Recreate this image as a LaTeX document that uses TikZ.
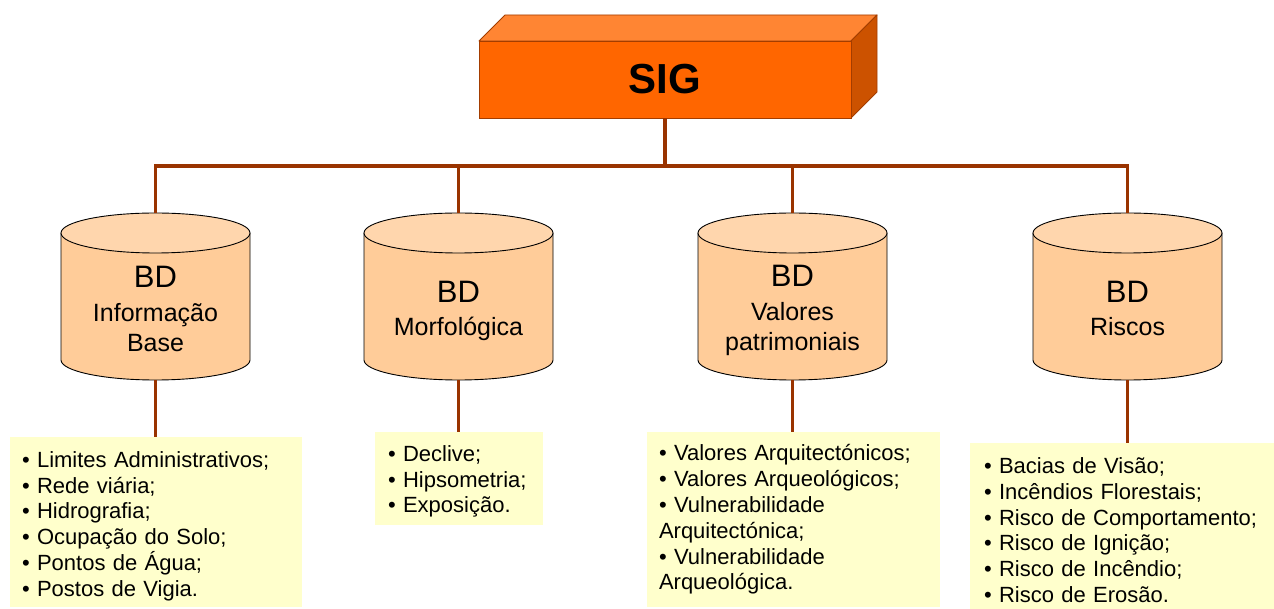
\documentclass[tikz,border=0pt]{standalone}
\usepackage{fontspec}
\setmainfont{Liberation Sans}
\definecolor{wirec}{HTML}{993300}
\definecolor{sigfront}{HTML}{FF6600}
\definecolor{sigtop}{HTML}{FF8533}
\definecolor{sigside}{HTML}{CC5200}
\definecolor{sigedge}{HTML}{A33D00}
\definecolor{cylbody}{HTML}{FFCC99}
\definecolor{cyltop}{HTML}{FFD6AD}
\definecolor{listfill}{HTML}{FFFFCC}
\begin{document}
\begin{tikzpicture}[x=1pt,y=1pt,
  wire/.style={draw=wirec, line width=3.2pt},
  sigbox/.style={draw=sigedge, fill=sigfront, line width=0.9pt, minimum width=372, minimum height=77, inner sep=0pt, font=\fontsize{42}{48}\selectfont\bfseries},
  sigface/.style={draw=sigedge, line width=0.9pt, line join=round},
  cyledge/.style={draw=black, line width=0.9pt},
  cylfoot/.style={minimum width=189, minimum height=167, inner sep=0pt},
  dbtext/.style={align=center, inner sep=0pt, font=\fontsize{25}{30}\selectfont},
  listbox/.style={fill=listfill, align=left, inner ysep=0pt, font=\fontsize{22}{25.8}\selectfont}
]
\useasboundingbox (0,0) rectangle (1274,608);

% SIG block
\fill[sigtop] (479,567) -- (505,593) -- (877,593) -- (851,567) -- cycle;
\draw[sigface] (479,567) -- (505,593) -- (877,593) -- (851,567) -- cycle;
\fill[sigside] (851,567) -- (877,593) -- (877,516) -- (851,490) -- cycle;
\draw[sigface] (851,567) -- (877,593) -- (877,516) -- (851,490) -- cycle;
\node[sigbox] (sig) at (665,528.5) {SIG};

% cylinders
\foreach \cx/\n in {155.5/1,458.5/2,792.5/3,1127.5/4}{
  \fill[cylbody] (\cx-94.5,375) -- (\cx-94.5,248) arc[start angle=180,end angle=360,x radius=94.5,y radius=20] -- (\cx+94.5,375) -- cycle;
  \draw[cyledge] (\cx-94.5,375) -- (\cx-94.5,248) arc[start angle=180,end angle=360,x radius=94.5,y radius=20] -- (\cx+94.5,375);
  \filldraw[cyledge, fill=cyltop] (\cx,375) ellipse[x radius=94.5,y radius=20];
  \node[cylfoot] (c\n) at (\cx,311.5) {};
}

\node[dbtext] (l1) at (155.5,299.5) {{\fontsize{31}{33}\selectfont BD}\\[4pt]Informação\\Base};
\node[dbtext] (l2) at (458.5,297.5) {{\fontsize{31}{33}\selectfont BD}\\[3pt]Morfológica};
\node[dbtext] (l3) at (792.5,297.5) {{\fontsize{31}{33}\selectfont BD}\\[4pt]Valores\\patrimoniais};
\node[dbtext] (l4) at (1127.5,300) {{\fontsize{31}{33}\selectfont BD}\\[3pt]Riscos};

% list boxes
\node[listbox, minimum width=292, minimum height=170, text width=268, inner xsep=12] (b1) at (156,86)
 {\rule{0pt}{24pt}• Limites Administrativos;\\• Rede viária;\\• Hidrografia;\\• Ocupação do Solo;\\• Pontos de Água;\\• Postos de Vigia.};
\node[listbox, minimum width=168, minimum height=93, text width=142, inner xsep=13] (b2) at (459,129.5)
 {\rule{0pt}{22pt}• Declive;\\• Hipsometria;\\• Exposição.};
\node[listbox, minimum width=293, minimum height=175, text width=269, inner xsep=12] (b3) at (793.5,88.5)
 {• Valores Arquitectónicos;\\• Valores Arqueológicos;\\• Vulnerabilidade\\Arquitectónica;\\• Vulnerabilidade\\Arqueológica.};
\node[listbox, minimum width=320, minimum height=180, text width=292, inner xsep=14] (b4) at (1130,75)
 {• Bacias de Visão;\\• Incêndios Florestais;\\• Risco de Comportamento;\\• Risco de Ignição;\\• Risco de Incêndio;\\• Risco de Erosão.\rule[-6pt]{0pt}{0pt}};

% connectors
\coordinate (bus) at (665,442);
\draw[wire] (sig.south) -- (bus);
\draw[wire, line join=miter] (c1.north) -- (c1.north |- bus) -- (c4.north |- bus) -- (c4.north);
\draw[wire] (c2.north |- bus) -- (c2.north);
\draw[wire] (c3.north |- bus) -- (c3.north);
\foreach \n in {1,2,3,4}{
  \draw[wire] (c\n.south) -- (c\n.south |- b\n.north);
}
\end{tikzpicture}
\end{document}
